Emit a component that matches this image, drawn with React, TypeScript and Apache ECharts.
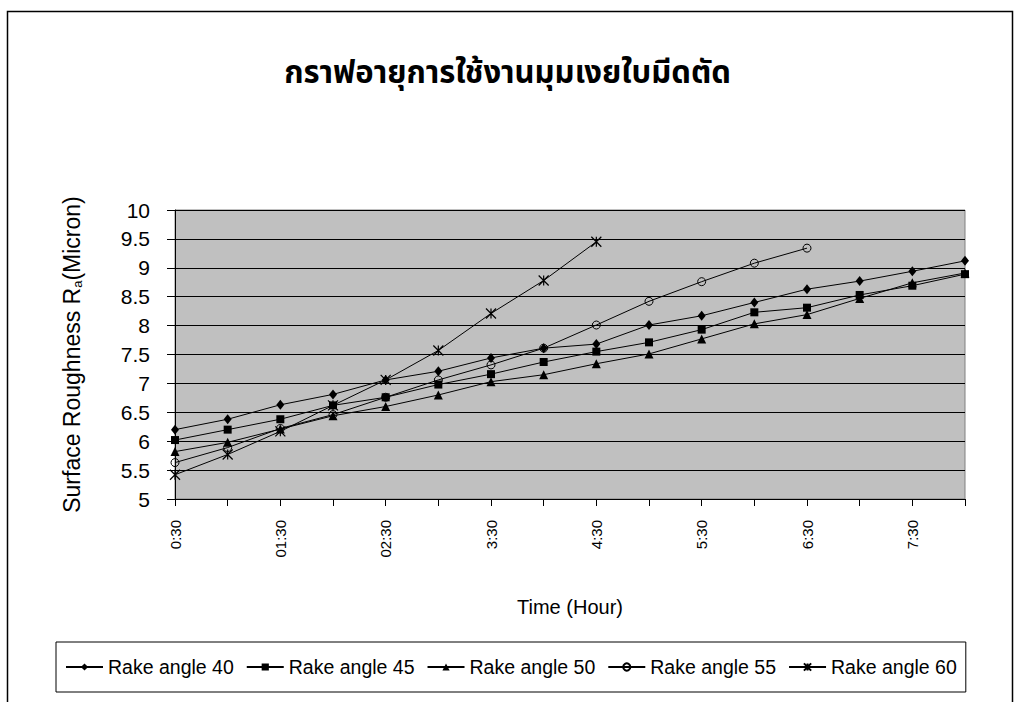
import React, { useEffect, useRef } from 'react';
import * as echarts from 'echarts';

const titleText = 'กราฟอายุการใช้งานมุมเงยใบมีดตัด';
const xAxisName = 'Time (Hour)';
const categories = ['0:30', '01:00', '01:30', '02:00', '02:30', '3:00', '3:30', '4:00', '4:30', '5:00', '5:30', '6:00', '6:30', '7:00', '7:30', '8:00'];
const seriesNames = ['Rake angle 40', 'Rake angle 45', 'Rake angle 50', 'Rake angle 55', 'Rake angle 60'];
const rake40 = [6.2, 6.38, 6.63, 6.81, 7.06, 7.21, 7.44, 7.61, 7.68, 8.01, 8.17, 8.4, 8.63, 8.77, 8.94, 9.12];
const rake45 = [6.02, 6.2, 6.38, 6.62, 6.76, 6.98, 7.16, 7.37, 7.55, 7.71, 7.93, 8.23, 8.31, 8.53, 8.69, 8.89];
const rake50 = [5.82, 5.98, 6.21, 6.44, 6.6, 6.8, 7.03, 7.15, 7.34, 7.51, 7.77, 8.03, 8.19, 8.47, 8.74, 8.91];
const rake55 = [5.63, 5.89, 6.22, 6.46, 6.76, 7.06, 7.32, 7.61, 8.01, 8.42, 8.76, 9.08, 9.34, null, null, null];
const rake60 = [5.42, 5.77, 6.17, 6.62, 7.06, 7.57, 8.21, 8.78, 9.45, null, null, null, null, null, null, null];

const ASTERISK = 'path://M0,0L10,10M10,0L0,10M5,0L5,10';

export default function App() {
  const ref = useRef<HTMLDivElement>(null);

  useEffect(() => {
    const chart = echarts.init(ref.current!, null, { renderer: 'svg' });
    const font = "'Liberation Sans', Arial, sans-serif";
    const base = (name: string, data: (number | null)[], symbol: string, symbolSize: any, itemStyle: any) => ({
      name,
      type: 'line',
      data,
      symbol,
      symbolSize,
      showAllSymbol: true,
      lineStyle: { color: '#000', width: 1 },
      itemStyle,
      emphasis: { disabled: true },
    });

    chart.setOption({
      animation: false,
      backgroundColor: '#fff',
      title: {
        text: titleText,
        left: 'center',
        top: 53,
        textStyle: {
          fontSize: 31,
          fontWeight: 'bold',
          color: '#000',
          fontFamily: "'Noto Sans Thai', 'Noto Sans Thai Looped', Garuda, Loma, 'Tlwg Typo', Tahoma, 'DejaVu Sans', sans-serif",
        },
      },
      graphic: [
        {
          type: 'rect',
          silent: true,
          z: 100,
          shape: { x: 7.5, y: 11.5, width: 1005, height: 700 },
          style: { fill: 'none', stroke: '#000', lineWidth: 1.5 },
        },
      ],
      legend: {
        data: seriesNames,
        left: 56,
        top: 642,
        orient: 'horizontal',
        padding: [15, 9, 15, 9],
        borderColor: '#000',
        borderWidth: 1,
        backgroundColor: '#fff',
        itemWidth: 37,
        itemHeight: 9,
        itemGap: 12,
        textStyle: { fontSize: 19.5, color: '#000', fontFamily: font },
      },
      grid: {
        left: 175,
        top: 210,
        right: 50,
        bottom: 203,
        show: true,
        backgroundColor: '#c0c0c0',
        borderColor: '#808080',
        borderWidth: 1,
      },
      xAxis: {
        type: 'category',
        data: categories,
        boundaryGap: false,
        name: xAxisName,
        nameLocation: 'middle',
        nameGap: 98,
        nameTextStyle: { fontSize: 20, color: '#000', fontFamily: font },
        axisLine: { show: true, lineStyle: { color: '#000', width: 1 } },
        axisTick: { show: true, interval: 0, length: 7, lineStyle: { color: '#000' } },
        axisLabel: { interval: 1, rotate: 90, fontSize: 15, color: '#000', margin: 21, fontFamily: font },
        splitLine: { show: false },
      },
      yAxis: {
        type: 'value',
        min: 5,
        max: 10,
        interval: 0.5,
        name: 'Surface Roughness R{sub|a}(Micron)',
        nameLocation: 'middle',
        nameRotate: 90,
        nameGap: 91,
        nameTextStyle: {
          fontSize: 23,
          color: '#000',
          fontFamily: font,
          rich: { sub: { fontSize: 13, color: '#000', fontFamily: font, padding: [12, 0, 0, 0] } },
        },
        axisLine: { show: true, lineStyle: { color: '#000', width: 1 } },
        axisTick: { show: true, length: 8, lineStyle: { color: '#000' } },
        axisLabel: { fontSize: 21, color: '#000', margin: 25, fontFamily: font },
        splitLine: { show: true, lineStyle: { color: '#000', width: 1 } },
      },
      series: [
        base(seriesNames[0], rake40, 'diamond', [8, 10], { color: '#000' }),
        base(seriesNames[1], rake45, 'rect', 8, { color: '#000' }),
        base(seriesNames[2], rake50, 'triangle', 9, { color: '#000' }),
        base(seriesNames[3], rake55, 'circle', 8, { color: 'rgba(0,0,0,0)', borderColor: '#000', borderWidth: 1 }),
        base(seriesNames[4], rake60, ASTERISK, 10, { color: '#000', borderColor: '#000', borderWidth: 1.2 }),
      ],
    });

    return () => chart.dispose();
  }, []);

  return <div ref={ref} style={{ position: 'absolute', left: 0, top: 0, width: 1015, height: 702 }} />;
}
